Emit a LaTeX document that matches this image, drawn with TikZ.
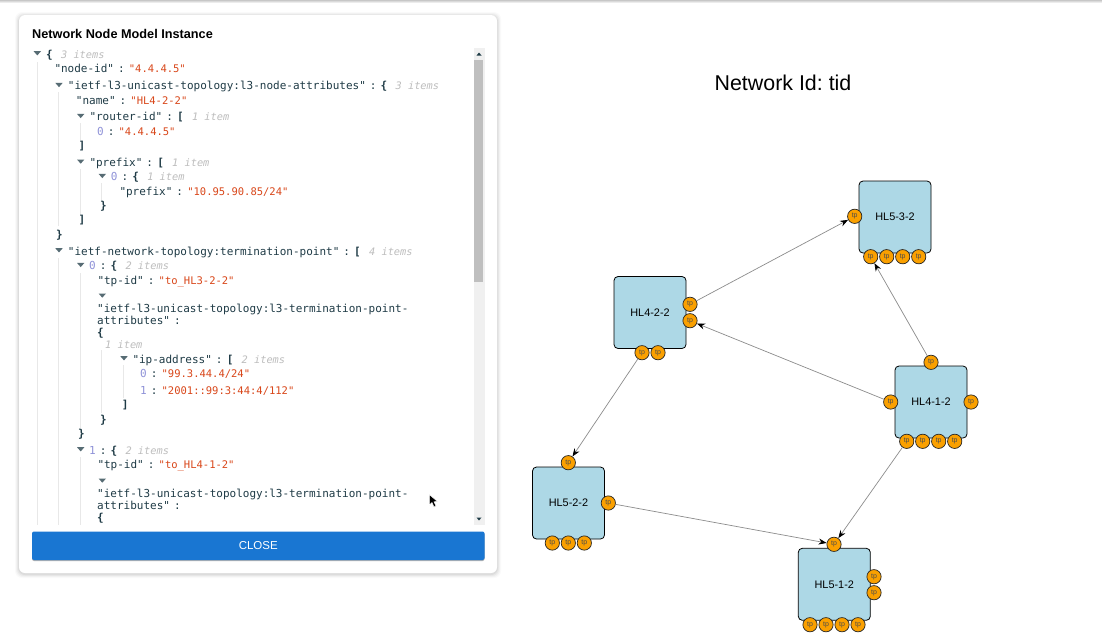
\documentclass[tikz,border=0pt]{standalone}
\usepackage{fontspec}
\setmainfont{Liberation Sans}
\newfontfamily\jsonfont{DejaVu Sans Mono}
\usetikzlibrary{arrows.meta}
\frenchspacing
\definecolor{keyc}{HTML}{1F3B46}
\definecolor{strc}{HTML}{D9471A}
\definecolor{idxc}{HTML}{8F92D8}
\definecolor{notec}{HTML}{BDBDBD}
\definecolor{guidec}{HTML}{E8E8E8}
\definecolor{tpc}{HTML}{FAA000}
\definecolor{boxc}{HTML}{ADD8E6}
\definecolor{btnc}{HTML}{1976D2}
\newcommand\jK[1]{\textcolor{keyc}{#1}}
\newcommand\jS[1]{\textcolor{strc}{\fontsize{10.5}{13}\selectfont #1}}
\newcommand\jI[1]{\textcolor{idxc}{#1}}
\newcommand\jB[1]{\textcolor{keyc}{\bfseries #1}}
\newcommand\jN[1]{\hspace{8.3pt}\textcolor{notec}{\fontsize{10.3}{13}\selectfont\itshape #1}}
\newcommand\jC{\hspace{4pt}:\hspace{4.2pt}}
\tikzset{
  json/.style={anchor=base west,inner sep=0pt,font=\jsonfont\fontsize{11}{13}\selectfont,text=keyc},
  nbox/.style={draw=black,line width=0.8pt,fill=boxc,rounded corners=4pt,minimum width=72pt,minimum height=72pt,inner sep=0pt,font=\fontsize{10.9}{13}\selectfont},
  tpnode/.style={circle,draw=black!85,line width=0.7pt,fill=tpc,minimum size=14.3pt,inner sep=0pt,font=\fontsize{7}{8}\selectfont,text=black!70},
  link/.style={draw=black!45,line width=0.7pt,-{Stealth[length=8pt,width=6pt,color=black]}},
  guide/.style={draw=guidec,line width=1pt},
  caret/.style={fill=keyc!75!white}
}
\newcommand\caretat[2]{\fill[caret] (#1-3.7,#2-1.8) -- (#1+3.7,#2-1.8) -- (#1,#2+2.4) -- cycle;}
\begin{document}
\begin{tikzpicture}[x=1pt,y=-1pt]
\useasboundingbox (0,0) rectangle (1102,641);
\fill[white] (0,0) rectangle (1102,641);
\shade[top color=black!22,bottom color=white] (0,0) rectangle (1102,3);
% panel shadow
\foreach \o/\a in {4/0.02,3/0.03,2/0.04,1/0.05}
  \fill[black,opacity=\a,rounded corners=7pt] (19-\o,15-\o+1) rectangle (497+\o,573+\o+1);
\node[fill=white,rounded corners=6pt,minimum width=478pt,minimum height=558pt,inner sep=0pt] (panel) at (258,294) {};
\node[anchor=base west,inner sep=0pt,font=\bfseries\fontsize{12.7}{15}\selectfont] (title) at (32,38.4) {Network Node Model Instance};
% scrollbar
\fill[black!6] (474,48) rectangle (484.5,525);
\fill[black!25] (474.3,60) rectangle (483.2,282);
\fill[keyc] (476.5,55.5) -- (481.5,55.5) -- (479,52.5) -- cycle;
\fill[keyc] (476.5,517.5) -- (481.5,517.5) -- (479,520.5) -- cycle;
% guides
\draw[guide] (37.3,62) -- (37.3,525);
\draw[guide] (58.7,92) -- (58.7,226);
\draw[guide] (58.7,258) -- (58.7,525);
\draw[guide] (80.3,123) -- (80.3,140);
\draw[guide] (80.3,169) -- (80.3,216);
\draw[guide] (80.3,273) -- (80.3,428);
\draw[guide] (80.3,457) -- (80.3,525);
\draw[guide] (101.3,183) -- (101.3,200);
\draw[guide] (101.3,350) -- (101.3,413);
\draw[guide] (123.3,365) -- (123.3,398);
% carets
\caretat{37.3}{53}
\caretat{59}{84.7}
\caretat{80.7}{115.7}
\caretat{80.7}{161.3}
\caretat{102.3}{175.7}
\caretat{59}{250}
\caretat{80.7}{264.7}
\caretat{102.3}{295.3}
\caretat{124}{358}
\caretat{80.7}{449}
\caretat{102.3}{480.3}
% json lines
\node[json] (j01) at (46,58) {\jB{\{}\jN{3 items}};
\node[json] (j02) at (54.3,72.3) {\jK{"node-id"}\jC\jS{"4.4.4.5"}};
\node[json] (j03) at (67.7,89.3) {\jK{"ietf-l3-unicast-topology:l3-node-attributes"}\jC\jB{\{}\jN{3 items}};
\node[json] (j04) at (75.7,104) {\jK{"name"}\jC\jS{"HL4-2-2"}};
\node[json] (j05) at (89.3,120.7) {\jK{"router-id"}\jC\jB{[}\jN{1 item}};
\node[json] (j06) at (97,135) {\jI{0}\jC\jS{"4.4.4.5"}};
\node[json] (j07) at (78.3,149.3) {\jB{]}};
\node[json] (j08) at (89.3,166.3) {\jK{"prefix"}\jC\jB{[}\jN{1 item}};
\node[json] (j09) at (110.7,180.7) {\jI{0}\jC\jB{\{}\jN{1 item}};
\node[json] (j10) at (119.3,195) {\jK{"prefix"}\jC\jS{"10.95.90.85/24"}};
\node[json] (j11) at (100,209.3) {\jB{\}}};
\node[json] (j12) at (78.3,223.7) {\jB{]}};
\node[json] (j13) at (56,238.3) {\jB{\}}};
\node[json] (j14) at (67.7,255) {\jK{"ietf-network-topology:termination-point"}\jC\jB{[}\jN{4 items}};
\node[json] (j15) at (89,269.3) {\jI{0}\jC\jB{\{}\jN{2 items}};
\node[json] (j16) at (97.3,284) {\jK{"tp-id"}\jC\jS{"to\_HL3-2-2"}};
\node[json] (j17) at (97,312.3) {\jK{"ietf-l3-unicast-topology:l3-termination-point-}};
\node[json] (j18) at (97,324.3) {\jK{attributes"}\jC};
\node[json] (j19) at (97,336.3) {\jB{\{}};
\node[json] (j20) at (96.7,348.3) {\jN{1 item}};
\node[json] (j21) at (132.3,363) {\jK{"ip-address"}\jC\jB{[}\jN{2 items}};
\node[json] (j22) at (140,377.3) {\jI{0}\jC\jS{"99.3.44.4/24"}};
\node[json] (j23) at (140,394) {\jI{1}\jC\jS{"2001::99:3:44:4/112"}};
\node[json] (j24) at (121.7,408.3) {\jB{]}};
\node[json] (j25) at (100,423) {\jB{\}}};
\node[json] (j26) at (78,437.3) {\jB{\}}};
\node[json] (j27) at (89,454.3) {\jI{1}\jC\jB{\{}\jN{2 items}};
\node[json] (j28) at (97.3,468.7) {\jK{"tp-id"}\jC\jS{"to\_HL4-1-2"}};
\node[json] (j29) at (97,497.3) {\jK{"ietf-l3-unicast-topology:l3-termination-point-}};
\node[json] (j30) at (97,509.3) {\jK{attributes"}\jC};
\node[json] (j31) at (97,521.3) {\jB{\{}};
% cursor
\fill[black,draw=white,line width=0.5pt] (429.3,494.5) -- (429.3,505) -- (432,502.5) -- (434,507) -- (436,506) -- (434,501.8) -- (437.5,501.5) -- cycle;
% button
\fill[black!30,rounded corners=2pt] (32,532.5) rectangle (484.5,561);
\node[fill=btnc,rounded corners=2pt,minimum width=452.5pt,minimum height=28.5pt,inner sep=0pt,text=white,font=\fontsize{11.5}{14}\selectfont] (close) at (258.25,545.75) {CLOSE};
% graph
\node[inner sep=0pt,font=\fontsize{21.4}{25}\selectfont] (gtitle) at (783,83) {Network Id: tid};
\node[nbox] (n532) at (895,217) {HL5-3-2};
\node[nbox] (n422) at (650,312.5) {HL4-2-2};
\node[nbox] (n412) at (931,402) {HL4-1-2};
\node[nbox] (n522) at (568.5,503) {HL5-2-2};
\node[nbox] (n512) at (834.3,584.3) {HL5-1-2};
\foreach \nm/\px/\py in {
  a0/854.7/216.3,a1/870.7/256.7,a2/886.7/256.7,a3/902.7/256.7,a4/918.7/256.7,
  b0/690/304.3,b1/690/320.7,b2/642/352.7,b3/658/352.7,
  c0/931/362.3,c1/890.7/402,c2/971/402,c3/906.7/441.3,c4/922.7/441.3,c5/938.7/441.3,c6/954.7/441.3,
  d0/568.3/462.7,d1/608.3/503,d2/552.3/543,d3/568.3/543,d4/584.3/543,
  e0/834/544.3,e1/874/576.7,e2/874/592.7,e3/810/624.7,e4/826/624.7,e5/842/624.7,e6/858/624.7}
  \node[tpnode] (\nm) at (\px,\py) {tp};
\draw[link] (b0) -- (a0);
\draw[link] (c0) -- (a1);
\draw[link] (c1) -- (b1);
\draw[link] (b2) -- (d0);
\draw[link] (c3) -- (e0);
\draw[link] (d1) -- (e0);
\end{tikzpicture}
\end{document}
